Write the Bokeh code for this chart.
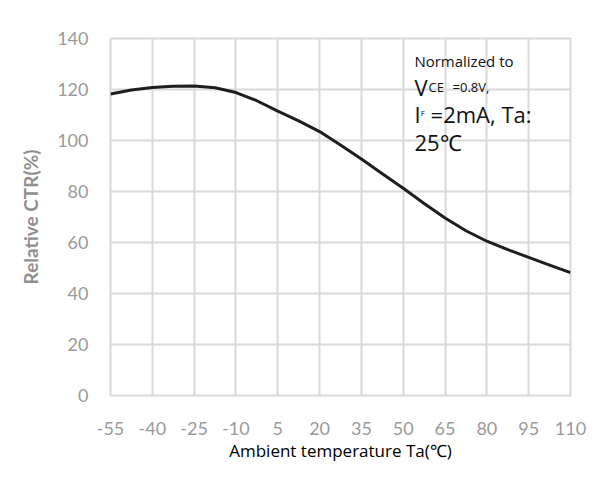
from bokeh.plotting import figure
from bokeh.models import FixedTicker, Label
from bokeh.embed import file_html
from bokeh.resources import INLINE

temps = [-55, -47.5, -40, -32.5, -25, -17.5, -10, -2.5, 5, 12.5, 20, 27.5,
         35, 42.5, 50, 57.5, 65, 72.5, 80, 87.5, 95, 102.5, 110]
rel_ctr = [118.2, 119.8, 120.8, 121.3, 121.4, 120.7, 118.8, 115.6, 111.5, 107.7, 103.5, 98.2,
           92.7, 87.0, 81.3, 75.3, 69.6, 64.6, 60.5, 57.2, 54.2, 51.1, 48.2]
x_ticks = [-55, -40, -25, -10, 5, 20, 35, 50, 65, 80, 95, 110]
x_tick_labels = ["-55", "-40", "-25", "-10", "5", "20", "35", "50", "65", "80", "95", "110"]
y_ticks = [0, 20, 40, 60, 80, 100, 120, 140]

p = figure(width=586, height=470, output_backend="svg", toolbar_location=None,
           x_range=(-55, 110), y_range=(0, 140),
           min_border_left=110, min_border_right=16, min_border_top=38, min_border_bottom=75)

p.line(temps, rel_ctr, line_color="#1e1e1e", line_width=3, line_join="round")

grid_c = "#d9d9d9"
p.xaxis.ticker = FixedTicker(ticks=x_ticks)
p.yaxis.ticker = FixedTicker(ticks=y_ticks)
p.xaxis.major_label_overrides = {t: s for t, s in zip(x_ticks, x_tick_labels)}
p.xgrid.grid_line_color = grid_c
p.ygrid.grid_line_color = grid_c
p.xgrid.grid_line_width = 2
p.ygrid.grid_line_width = 2
p.outline_line_color = grid_c
p.outline_line_width = 2

for ax in (p.xaxis, p.yaxis):
    ax.axis_line_color = None
    ax.major_tick_line_color = None
    ax.minor_tick_line_color = None
    ax.major_label_text_color = "#9a9a9a"
    ax.major_label_text_font = "Lato"
    ax.major_label_text_font_size = "18px"

p.yaxis.major_label_standoff = 16
p.xaxis.major_label_standoff = 20

p.yaxis.axis_label = "Relative CTR(%)"
p.yaxis.axis_label_text_font = "Lato"
p.yaxis.axis_label_text_font_size = "19px"
p.yaxis.axis_label_text_font_style = "bold"
p.yaxis.axis_label_text_color = "#8f8f8f"
p.yaxis.axis_label_standoff = 12

p.xaxis.axis_label = "Ambient temperature Ta(\u2103)"
p.xaxis.axis_label_text_font = "Open Sans"
p.xaxis.axis_label_text_font_size = "17px"
p.xaxis.axis_label_text_font_style = "normal"
p.xaxis.axis_label_text_color = "#000000"
p.xaxis.axis_label_standoff = 1

font = "Open Sans"
def lab(x, y, t, size):
    p.add_layout(Label(x=x, y=y, text=t, text_font=font, text_font_size=size,
                       text_color="#111111", text_baseline="alphabetic"))

lab(54.0, 131.0, "Normalized to", "15px")
lab(54.0, 121.0, "V", "22px")
lab(59.1, 121.0, "CE", "13px")
lab(67.7, 121.0, "=0.8V,", "13px")
lab(54.0, 110.5, "I", "22px")
lab(56.3, 111.0, "F", "8px")
lab(59.8, 110.5, "=2mA, Ta:", "22px")
lab(54.0, 99.5, "25\u2103", "22px")

open("out.html", "w").write(file_html(p, INLINE))
